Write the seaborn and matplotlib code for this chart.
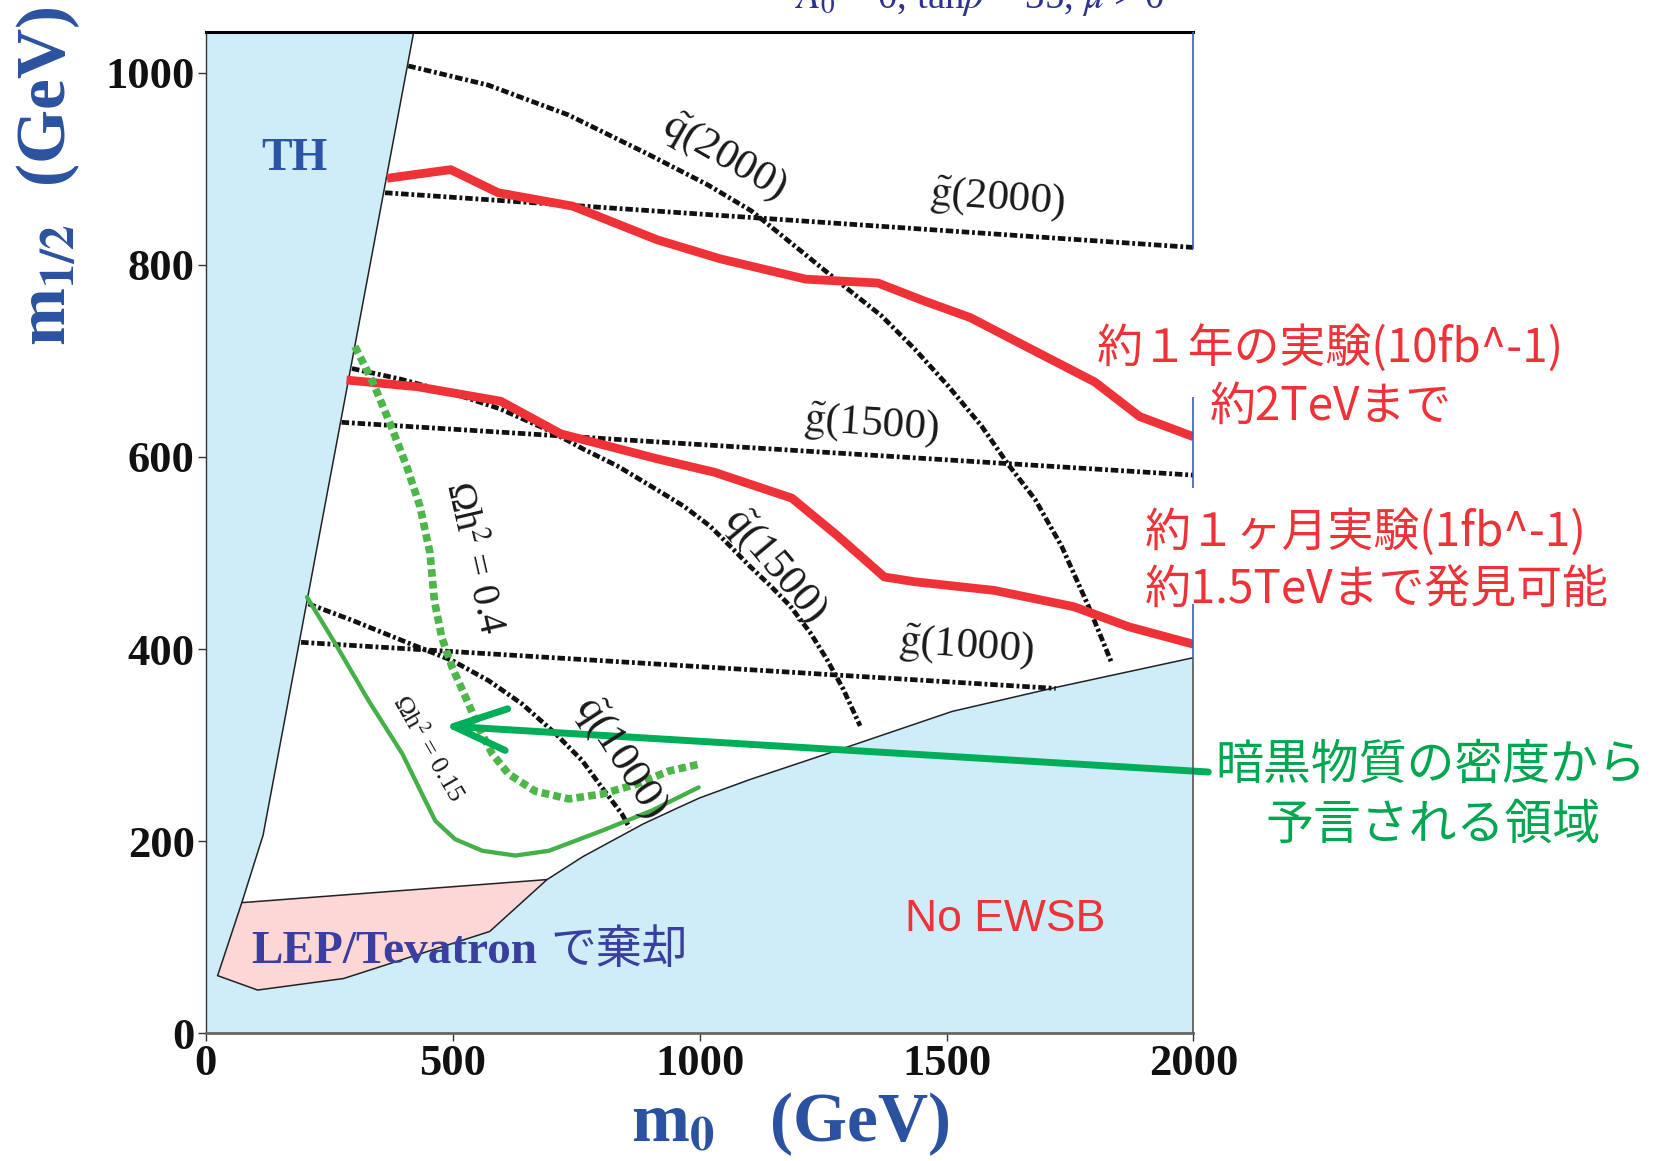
import matplotlib
matplotlib.use("Agg")
import matplotlib.pyplot as plt
import seaborn as sns

# ---------------- data (m0, m1/2 in GeV) ----------------
X_TICKS = [0, 500, 1000, 1500, 2000]
Y_TICKS = [0, 200, 400, 600, 800, 1000]
X_MAX = 2000
Y_MAX = 1042

# theoretically excluded (TH) boundary, from top down to LEP corner
TH_M0 = [421, 116, 73]
TH_M12 = [1042, 206, 136]
# LEP/Tevatron excluded polygon
LEP_M0 = [73, 691, 575, 279, 105, 24, 73]
LEP_M12 = [136, 160, 106, 57, 45, 60, 136]
# No-EWSB boundary
EWSB_M0 = [691, 764, 886, 953, 1000, 1101, 1299, 1511, 1721, 2000]
EWSB_M12 = [160, 184, 218, 234, 245, 264, 298, 335, 360, 391]

# gluino mass contours
G2000_M0, G2000_M12 = [363, 2000], [875, 818]
G1500_M0, G1500_M12 = [275, 2000], [636, 581]
G1000_M0, G1000_M12 = [193, 1721], [407, 359]
# squark mass contours
Q2000_M0 = [410, 572, 734, 896, 1017, 1105, 1206, 1287, 1368, 1436, 1503, 1571,
            1625, 1679, 1733, 1787, 1834]
Q2000_M12 = [1007, 987, 956, 915, 883, 856, 814, 780, 747, 712, 674, 632,
             592, 556, 507, 445, 386]
Q1500_M0 = [296, 394, 495, 596, 697, 765, 832, 900, 967, 1021, 1062, 1102,
            1143, 1183, 1224, 1258, 1291, 1325]
Q1500_M12 = [692, 681, 667, 650, 627, 608, 591, 570, 549, 528, 507, 486,
             466, 445, 417, 389, 358, 320]
Q1000_M0 = [208, 296, 397, 499, 573, 640, 708, 762, 802, 843, 858]
Q1000_M12 = [447, 430, 409, 388, 367, 343, 312, 284, 256, 228, 214]

# discovery reach: 10 fb^-1 and 1 fb^-1
R10_M0 = [367, 496, 592, 743, 914, 1043, 1215, 1361, 1451, 1548, 1687, 1800, 1891, 2000]
R10_M12 = [890, 899, 875, 861, 826, 806, 785, 781, 763, 745, 708, 678, 642, 621]
R1_M0 = [285, 429, 597, 719, 914, 1030, 1187, 1279, 1374, 1436, 1597, 1758, 1870, 2000]
R1_M12 = [680, 673, 658, 624, 598, 584, 557, 518, 475, 470, 461, 444, 423, 405]

# relic density contours
OM04_M0 = [302, 339, 373, 407, 434, 454, 463, 478, 499, 526, 553, 580, 613, 667,
           735, 802, 870, 938, 998]
OM04_M12 = [715, 677, 635, 590, 548, 500, 450, 412, 381, 350, 318, 291, 270, 252,
            244, 249, 259, 273, 280]
OM015_M0 = [205, 263, 330, 398, 438, 465, 505, 560, 627, 695, 803, 904, 998]
OM015_M12 = [454, 405, 346, 291, 249, 221, 202, 190, 185, 190, 211, 232, 256]

# arrow (tail -> tip)
ARROW_TAIL = (2030, 272)
ARROW_TIP = (483, 320)

# mass-contour labels
MASS_LABELS = [r"$\tilde{\mathrm{q}}$(2000)", r"$\tilde{\mathrm{g}}$(2000)",
               r"$\tilde{\mathrm{g}}$(1500)", r"$\tilde{\mathrm{q}}$(1500)",
               r"$\tilde{\mathrm{g}}$(1000)", r"$\tilde{\mathrm{q}}$(1000)"]
MASS_LABEL_M0 = [1050, 1603, 1348, 1153, 1541, 841]
MASS_LABEL_M12 = [912, 869, 633, 487, 402, 287]
MASS_LABEL_ROT = [-30, -4, -4, -50, -4, -57]

RED_TEXT_1 = ["約１年の実験(10fb^-1)", "約2TeVまで"]
RED_TEXT_1_M0 = [2277, 2279]
RED_TEXT_1_M12 = [713, 652]
RED_TEXT_2 = ["約１ヶ月実験(1fb^-1)", "約1.5TeVまで発見可能"]
RED_TEXT_2_M0 = [1902, 1902]
RED_TEXT_2_M12 = [521, 461]
GREEN_TEXT = ["暗黒物質の密度から", "予言される領域"]
GREEN_TEXT_M0 = [2481, 2485]
GREEN_TEXT_M12 = [279, 217]

# visible pieces of the right frame line
RSPINE_BLUE_LO = [816, 568, 391]
RSPINE_BLUE_HI = [1042, 662, 447]

# ---------------- style ----------------
SKY = "#cfedf9"
PINK = "#fdd6d6"
RED = "#ee3238"
GREEN_DASH = "#4cb748"
GREEN_SOLID = "#45b048"
ARROW_GREEN = "#00ae5a"
GREEN_TXT = "#00a650"
TH_BLUE = "#2b55a2"
AX_BLUE = "#2a52a0"
LEP_BLUE = "#3a3f9f"
TITLE_BLUE = "#2e3192"
EDGE = "#222222"

sns.set_theme(style="white")
plt.rcParams["font.family"] = ["Liberation Serif", "Noto Sans CJK JP", "DejaVu Sans"]
plt.rcParams["mathtext.fontset"] = "stix"

fig = plt.figure(figsize=(16.62, 11.61), dpi=100, facecolor="white")
ax = fig.add_axes([0.1238, 0.110, 0.7181 - 0.1238, 0.9722 - 0.110])
ax.set_xlim(0, X_MAX)
ax.set_ylim(0, Y_MAX)
ax.set_facecolor(SKY)

# allowed (white) region
allowed_x = TH_M0 + EWSB_M0 + [X_MAX]
allowed_y = TH_M12 + EWSB_M12 + [Y_MAX]
ax.fill(allowed_x, allowed_y, color="white", lw=0, zorder=0.5)
ax.fill(LEP_M0, LEP_M12, facecolor=PINK, edgecolor=EDGE, lw=1.1, zorder=1)

common = dict(sort=False, estimator=None, ax=ax)
sns.lineplot(x=TH_M0, y=TH_M12, color=EDGE, lw=1.1, zorder=1.2, **common)
sns.lineplot(x=EWSB_M0, y=EWSB_M12, color=EDGE, lw=1.1, zorder=1.2, **common)

dashdot = (0, (1.6, 0.6, 0.6, 0.6))
for xs, ys in [(G2000_M0, G2000_M12), (G1500_M0, G1500_M12), (G1000_M0, G1000_M12),
               (Q2000_M0, Q2000_M12), (Q1500_M0, Q1500_M12), (Q1000_M0, Q1000_M12)]:
    sns.lineplot(x=xs, y=ys, color="#111111", lw=3.4, linestyle=dashdot,
                 zorder=2, **common)

for xs, ys in [(R10_M0, R10_M12), (R1_M0, R1_M12)]:
    sns.lineplot(x=xs, y=ys, color=RED, lw=6.3, zorder=3,
                 solid_joinstyle="round", solid_capstyle="butt", **common)

sns.lineplot(x=OM04_M0, y=OM04_M12, color=GREEN_DASH, lw=5.5,
             linestyle=(0, (1.0, 0.55)), zorder=3, **common)
sns.lineplot(x=OM015_M0, y=OM015_M12, color=GREEN_SOLID, lw=3.1,
             zorder=3, solid_joinstyle="round", **common)

ax.annotate("", xy=ARROW_TIP, xytext=ARROW_TAIL, annotation_clip=False,
            arrowprops=dict(arrowstyle="->,head_length=1.9,head_width=0.75",
                            color=ARROW_GREEN, lw=5, shrinkA=0, shrinkB=0,
                            mutation_scale=20), zorder=4)

# frame
ax.spines["right"].set_visible(False)
ax.spines["top"].set_color("black")
ax.spines["top"].set_linewidth(2.2)
ax.spines["left"].set_color("#333333")
ax.spines["left"].set_linewidth(1.0)
ax.spines["bottom"].set_color("#666666")
ax.spines["bottom"].set_linewidth(2.0)
ax.vlines([X_MAX] * len(RSPINE_BLUE_LO), RSPINE_BLUE_LO, RSPINE_BLUE_HI,
          colors="#3b5cc4", lw=1.2, clip_on=False, zorder=5)
ax.vlines([X_MAX], [0], [RSPINE_BLUE_LO[-1]], colors="#555555", lw=1.2,
          clip_on=False, zorder=5)

ax.set_xticks(X_TICKS)
ax.set_yticks(Y_TICKS)
ax.tick_params(axis="both", which="major", bottom=True, left=True, top=False, right=False,
               direction="out", length=6, width=1, color="#333333",
               labelsize=32, pad=2, labelcolor="#111111")
for lbl in ax.get_xticklabels() + ax.get_yticklabels():
    lbl.set_fontweight("bold")
    lbl.set_family("Liberation Serif")

ax.set_xlabel(r"m$_{\mathbf{0}}$   (GeV)", fontsize=50, fontweight="bold",
              color=AX_BLUE, va="center", ha="center")
ax.xaxis.set_label_coords(0.5916, -0.0906)
ax.set_ylabel(r"m$_{\mathbf{1/2}}$  (GeV)", fontsize=50, fontweight="bold",
              color=AX_BLUE, va="center", ha="center")
ax.yaxis.set_label_coords(-0.1597, 0.856)

# labels inside
for t, x, y, r in zip(MASS_LABELS, MASS_LABEL_M0, MASS_LABEL_M12, MASS_LABEL_ROT):
    ax.text(x, y, t, fontsize=31, rotation=r, rotation_mode="anchor",
            ha="center", va="center", color="#1a1a1a", zorder=6,
            family="Liberation Serif")

ax.text(541, 495, "Ωh$^2$ = 0.4", fontsize=28, rotation=-77, rotation_mode="anchor",
        ha="center", va="center", color="#1a1a1a", family="Liberation Serif", zorder=6)
ax.text(451, 297, "Ωh$^2$ = 0.15", fontsize=19, rotation=-60, rotation_mode="anchor",
        ha="center", va="center", color="#1a1a1a", family="Liberation Serif", zorder=6)

ax.text(180, 910, "TH", fontsize=33, fontweight="bold", color=TH_BLUE,
        ha="center", va="center", family="Liberation Serif", zorder=6)
ax.text(1618, 118, "No EWSB", fontsize=32, color=RED, ha="center", va="center",
        family="Liberation Sans", zorder=6)
ax.text(92, 73, "LEP/Tevatron", fontsize=34, fontweight="bold", color=LEP_BLUE,
        ha="left", va="baseline", family="Liberation Serif", zorder=6)
ax.text(697, 73, "で棄却", fontsize=33, color=LEP_BLUE, ha="left", va="baseline",
        family=["Noto Sans CJK JP", "DejaVu Sans"], zorder=6)

for t, x, y in zip(RED_TEXT_1, RED_TEXT_1_M0, RED_TEXT_1_M12):
    ax.text(x, y, t, fontsize=33, color=RED, ha="center", va="center",
            family=["Noto Sans CJK JP", "DejaVu Sans"], clip_on=False, zorder=6)
for t, x, y in zip(RED_TEXT_2, RED_TEXT_2_M0, RED_TEXT_2_M12):
    ax.text(x, y, t, fontsize=33, color=RED, ha="left", va="center",
            family=["Noto Sans CJK JP", "DejaVu Sans"], clip_on=False, zorder=6)
for t, x, y in zip(GREEN_TEXT, GREEN_TEXT_M0, GREEN_TEXT_M12):
    ax.text(x, y, t, fontsize=34.5, color=GREEN_TXT, ha="center", va="center",
            family=["Noto Sans CJK JP", "DejaVu Sans"], clip_on=False, zorder=6)

fig.text(0.5897, 0.9931, r"$A_0$ = 0, tan$\beta$ = 35, $\mu$ > 0", fontsize=28,
         color=TITLE_BLUE, ha="center", va="baseline", family="Liberation Serif")

fig.savefig("out.png", dpi=100, facecolor="white")
